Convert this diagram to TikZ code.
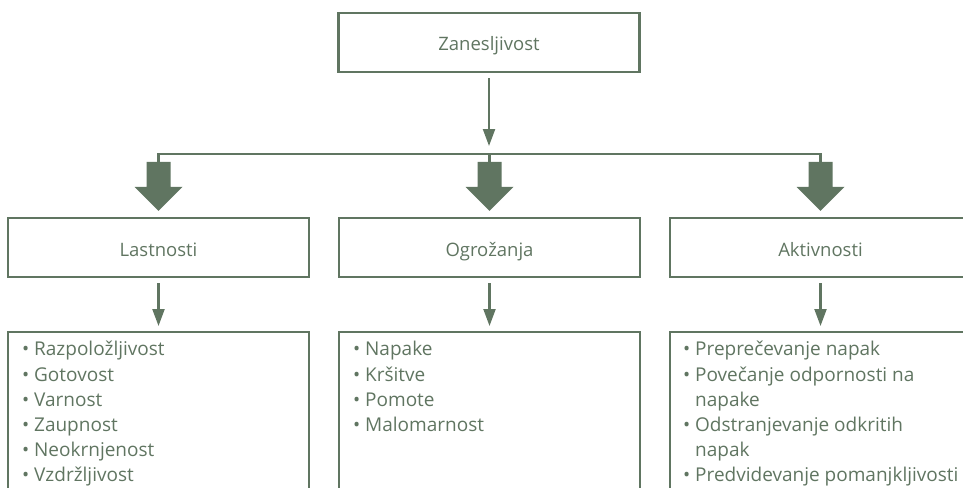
\documentclass[tikz,border=0pt]{standalone}
\usepackage{fontspec}
\setmainfont{Open Sans}
\usetikzlibrary{arrows.meta,calc}
\definecolor{sage}{RGB}{96,117,97}
\begin{document}
\begin{tikzpicture}[x=1pt,y=-1pt,
  box/.style={draw=sage,line width=2.2pt,minimum width=301pt,minimum height=59pt,inner sep=0pt,text height=17pt,text depth=0pt,font=\fontsize{18.5}{22}\selectfont,text=sage},
  listbox/.style={draw=sage,line width=2.2pt,minimum width=301pt,minimum height=220pt,anchor=north},
  listtext/.style={anchor=north west,inner sep=0pt,align=left,font=\fontsize{19}{25.2}\selectfont,text=sage},
  thinarrow/.style={draw=sage,line width=2.2pt,-{Triangle[width=12pt,length=17pt]}},
  bus/.style={draw=sage,line width=2.2pt},
  blockarrow/.style={fill=sage,draw=none}
]
\clip (0,0) rectangle (963,487);
% boxes
\node[box] (top) at (489,42.5) {Zanesljivost};
\node[box] (l) at (158.5,247.5) {Lastnosti};
\node[box] (o) at (489.5,247.5) {Ogrožanja};
\node[box] (a) at (820.5,247.5) {Aktivnosti};
\node[listbox] (ll) at (158.5,331) {};
\node[listbox] (ol) at (489.5,331) {};
\node[listbox] (al) at (820.5,331) {};
% list texts
\node[listtext] (llt) at ($(ll.north west)+(15,7)$) {\strut• Razpoložljivost\\\strut• Gotovost\\\strut• Varnost\\\strut• Zaupnost\\\strut• Neokrnjenost\\\strut• Vzdržljivost};
\node[listtext] (olt) at ($(ol.north west)+(15,7)$) {\strut• Napake\\\strut• Kršitve\\\strut• Pomote\\\strut• Malomarnost};
\node[listtext] (alt) at ($(al.north west)+(14,7)$) {\strut• Preprečevanje napak\\\strut• Povečanje odpornosti na\\\strut\hphantom{• }napake\\\strut• Odstranjevanje odkritih\\\strut\hphantom{• }napak\\\strut• Predvidevanje pomanjkljivosti};
% bus
\coordinate (bus) at (489,154);
\foreach \n in {l,o,a}{
  \coordinate (tip\n) at ($(\n.north)+(0,-6)$);
  \coordinate (stem\n) at ($(tip\n)+(0,-48)$);
  \fill[blockarrow] ($(tip\n)+(-12,-49)$) -- ($(tip\n)+(12,-49)$) -- ($(tip\n)+(12,-24)$) -- ($(tip\n)+(24,-24)$) -- (tip\n) -- ($(tip\n)+(-24,-24)$) -- ($(tip\n)+(-12,-24)$) -- cycle;
}
\draw[bus] (steml) -- (steml |- bus) -- (stema |- bus) -- (stema);
\draw[bus] (stemo |- bus) -- (stemo);
\draw[thinarrow] ($(top.south)+(0,5)$) -- ($(bus)+(0,-8)$);
\draw[thinarrow] ($(l.south)+(0,5)$) -- ($(ll.north)+(0,-5)$);
\draw[thinarrow] ($(o.south)+(0,5)$) -- ($(ol.north)+(0,-5)$);
\draw[thinarrow] ($(a.south)+(0,5)$) -- ($(al.north)+(0,-5)$);
\end{tikzpicture}
\end{document}
